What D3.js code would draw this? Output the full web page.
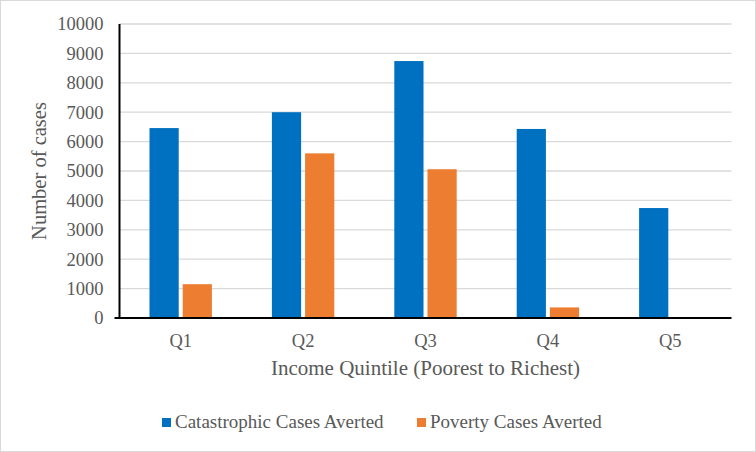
<!DOCTYPE html>
<html><head><meta charset="utf-8">
<script src="https://cdn.jsdelivr.net/npm/d3@7"></script>
<style>body{margin:0;background:#fff}svg{display:block}text{font-family:"Liberation Serif","Times New Roman",serif;fill:#595959}</style>
</head><body><svg id="c" width="756" height="452"></svg>
<script>
const categories = ["Q1","Q2","Q3","Q4","Q5"];
const catastrophic = [6460, 7000, 8740, 6430, 3740];
const poverty = [1150, 5600, 5060, 360, 0];
const seriesNames = ["Catastrophic Cases Averted","Poverty Cases Averted"];
const yTicks = [0,1000,2000,3000,4000,5000,6000,7000,8000,9000,10000];
const colors = ["#0070C0","#ED7D31"];

const svg = d3.select("#c");
svg.append("rect").attr("x",0.5).attr("y",0.5).attr("width",755).attr("height",451).attr("fill","#fff").attr("stroke","#d9d9d9");

const L=119.5, R=731.5, T=24, B=318;
const x = d3.scaleBand().domain(categories).range([L,R]).paddingInner(0).paddingOuter(0);
const y = d3.scaleLinear().domain([0,10000]).range([B,T]);
const inner = d3.scaleBand().domain([0,1]).range([30, x.bandwidth()-30]).paddingInner(0.12);

// gridlines
svg.append("g").selectAll("line").data(yTicks.slice(1)).join("line")
  .attr("x1",L).attr("x2",R).attr("y1",d=>y(d)).attr("y2",d=>y(d))
  .attr("stroke","#d9d9d9").attr("stroke-width",1.3);

// y tick labels
const yAxis = d3.axisLeft(y).tickValues(yTicks).tickSize(0).tickPadding(16).tickFormat(d3.format("d"));
const ga = svg.append("g").attr("transform",`translate(${L},0)`).call(yAxis);
ga.select(".domain").remove();
ga.selectAll("text").attr("font-size",18.5).attr("fill","#595959");

// bars
const data = categories.map((c,i)=>({c, v:[catastrophic[i], poverty[i]]}));
const groups = svg.append("g").selectAll("g").data(data).join("g").attr("transform",d=>`translate(${x(d.c)},0)`);
groups.selectAll("rect").data(d=>d.v.map((v,k)=>({v,k}))).join("rect")
  .attr("x",d=>inner(d.k)).attr("width",inner.bandwidth())
  .attr("y",d=>y(d.v)).attr("height",d=>B-y(d.v)).attr("fill",d=>colors[d.k]);

// axes lines
svg.append("line").attr("x1",L).attr("x2",L).attr("y1",T).attr("y2",B).attr("stroke","#000").attr("stroke-width",2);
svg.append("line").attr("x1",L-5).attr("x2",R).attr("y1",B).attr("y2",B).attr("stroke","#000").attr("stroke-width",2);

// x labels
const xAxis = d3.axisBottom(x).tickSize(0).tickPadding(16);
const gx = svg.append("g").attr("transform",`translate(0,${B})`).call(xAxis);
gx.select(".domain").remove();
gx.selectAll("text").attr("font-size",18.5).attr("fill","#595959");

// axis titles
svg.append("text").attr("x",(L+R)/2).attr("y",375).attr("text-anchor","middle").attr("font-size",21).text("Income Quintile (Poorest to Richest)");
svg.append("text").attr("transform","translate(46,171) rotate(-90)").attr("text-anchor","middle").attr("font-size",20.5).text("Number of cases");

// legend
const legX = [162, 417];
const lg = svg.append("g").selectAll("g").data(seriesNames).join("g").attr("transform",(d,i)=>`translate(${legX[i]},0)`);
lg.append("rect").attr("x",0).attr("y",418).attr("width",9).attr("height",9).attr("fill",(d,i)=>colors[i]);
lg.append("text").attr("x",13).attr("y",428).attr("font-size",19).text(d=>d);
</script></body></html>
